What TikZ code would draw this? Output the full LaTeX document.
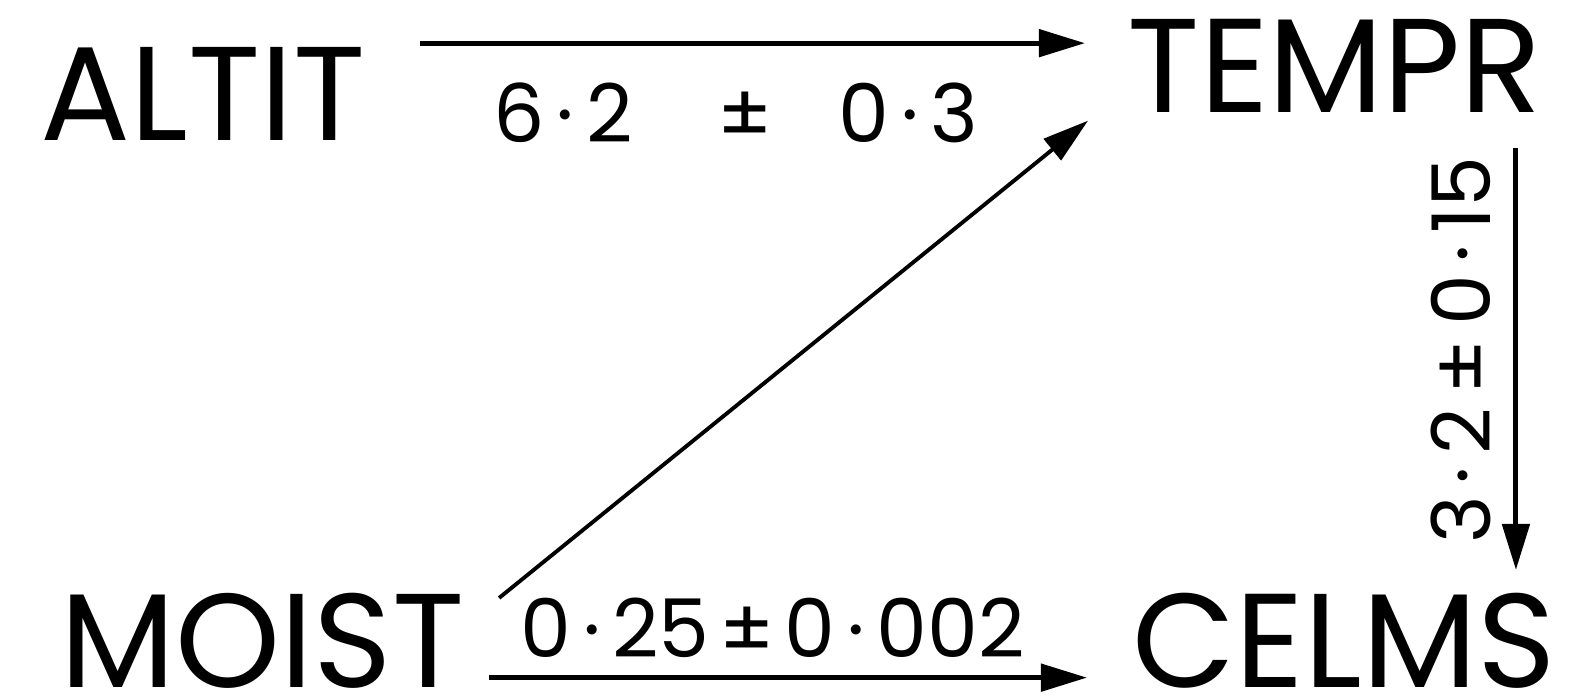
\documentclass[tikz,border=0pt]{standalone}
\usepackage{fontspec}
\setmainfont{Poppins}
\usetikzlibrary{arrows.meta,calc}
\newcommand{\dotsep}{\kern0.15em·\kern0.15em}
\newcommand{\pmsep}{\kern0.12em±\kern0.12em}
\tikzset{pathsec/.style={x=0.01cm,y=0.01cm}}
\tikzset{var/.style={inner sep=0pt,anchor=base west,font=\fontsize{38}{42}\selectfont},
         coef/.style={inner sep=0pt,font=\fontsize{23}{27}\selectfont},
         link/.style={line width=1.4pt,-{Triangle[length=0.46cm,width=0.27cm]}}}

\begin{document}
\begin{tikzpicture}[pathsec]
    \useasboundingbox (0,0) rectangle (1578,-697);
    \node[var] (altit) at (40,-140)   {ALTIT};
    \node[var] (tempr) at (1127,-113) {TEMPR};
    \node[var] (moist) at (60,-687)   {MOIST};
    \node[var] (celms) at (1132,-687) {CELMS};
    % paths with their coefficients
    \draw[link] ([shift={(53,3)}]altit.north east) coordinate (a1) -- ($(a1 -| tempr.west)+(-42,0)$)
        node[coef,pos=0.475,below=0.37cm] {6\dotsep2\hspace{0.85cm}±\hspace{0.65cm}0\dotsep3};
    \draw[link,line width=1.1pt] ([shift={(34,-6)}]moist.north east) -- ([shift={(-39,-7)}]tempr.south west);
    \draw[link] ([shift={(-27,-34)}]tempr.south east) coordinate (a3) -- ($(a3 |- celms.north)+(0,22)$)
        node[coef,pos=0.48,rotate=90,anchor=south,outer sep=0.25cm] {3\dotsep2\,±\,0\dotsep15};
    \draw[link] ([shift={(24,11)}]moist.south east) -- ([shift={(-45,11)}]celms.south west)
        node[coef,pos=0.474,above=0.18cm] {0\dotsep25\pmsep0\dotsep002};
\end{tikzpicture}
\end{document}
